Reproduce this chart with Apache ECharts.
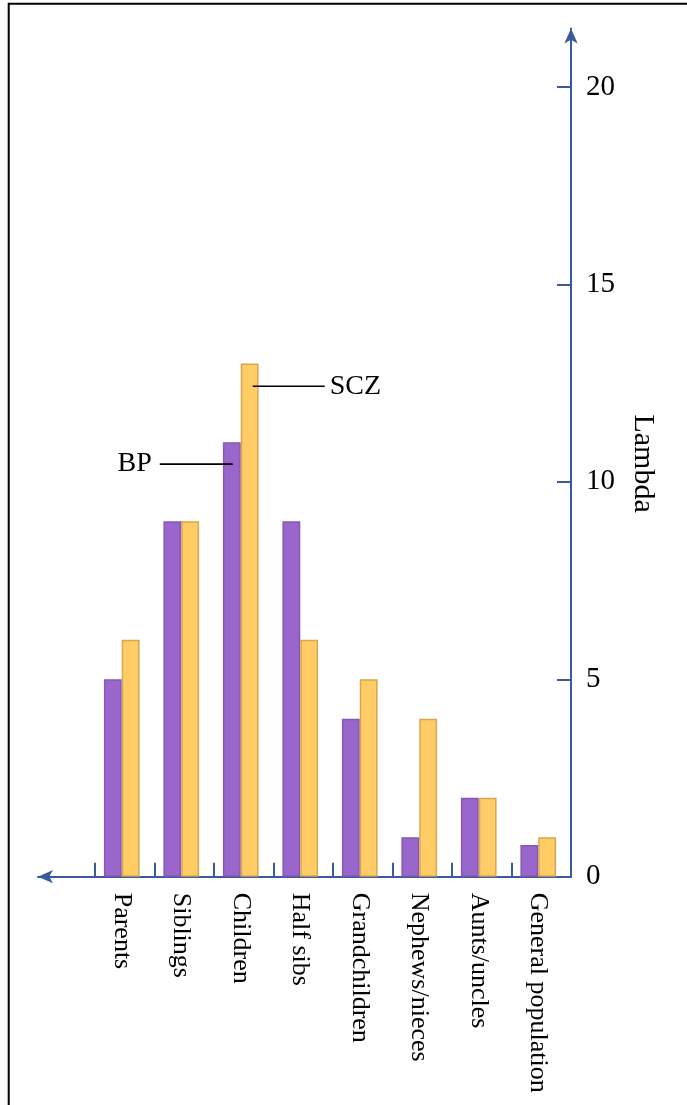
<!DOCTYPE html>
<html><head><meta charset="utf-8">
<script src="https://cdn.jsdelivr.net/npm/echarts@6/dist/echarts.min.js"></script>
<style>html,body{margin:0;padding:0;background:#fff}#c{width:687px;height:1105px}</style>
</head><body><div id="c"></div>
<script>
const categories = ['Parents', 'Siblings', 'Children', 'Half sibs', 'Grandchildren', 'Nephews/nieces', 'Aunts/uncles', 'General population'];
const bpValues = [5, 9, 11, 9, 4, 1, 2, 0.8];
const sczValues = [6, 9, 13, 6, 5, 4, 2, 1];
const valueMin = 0, valueMax = 20, valueStep = 5;
const axisName = 'Lambda';
const seriesNames = ['BP', 'SCZ'];

const FONT = "'Liberation Serif', 'Times New Roman', serif";
const BLUE = '#3A5AA0';
const chart = echarts.init(document.getElementById('c'), null, {renderer: 'canvas'});

const option = {
  animation: false,
  backgroundColor: '#fff',
  grid: [
    {left: 92, right: 119, top: 87, bottom: 228.3},
    {left: 95, right: 116, top: 87, bottom: 228.3},
    {left: 38, right: 116, top: 28.5, bottom: 228.3}
  ],
  xAxis: [
    {type: 'category', gridIndex: 0, data: categories,
     axisLine: {show: false}, axisTick: {show: false},
     axisLabel: {interval: 0, rotate: -90, margin: 16, color: '#000', fontFamily: FONT, fontSize: 26}},
    {type: 'category', gridIndex: 1, data: categories,
     axisLine: {show: false},
     axisTick: {show: true, inside: true, length: 14, alignWithLabel: false, interval: 0, lineStyle: {color: BLUE, width: 2}},
     axisLabel: {show: false}},
    {type: 'value', gridIndex: 2, min: 0, max: 1,
     axisLine: {show: true, onZero: false, symbol: ['arrow', 'none'], symbolSize: [10, 15], lineStyle: {color: BLUE, width: 2}},
     axisTick: {show: false}, axisLabel: {show: false}, splitLine: {show: false}}
  ],
  yAxis: [
    {type: 'value', gridIndex: 0, min: valueMin, max: valueMax, interval: valueStep, show: false},
    {type: 'value', gridIndex: 1, position: 'right', min: valueMin, max: valueMax, interval: valueStep,
     axisLine: {show: false},
     axisTick: {show: true, inside: true, length: 14, lineStyle: {color: BLUE, width: 2}},
     axisLabel: {margin: 15, color: '#000', fontFamily: FONT, fontSize: 29, padding: [0, 0, 8, 0]},
     splitLine: {show: false}},
    {type: 'value', gridIndex: 2, position: 'right', min: 0, max: 1,
     name: axisName, nameLocation: 'middle', nameRotate: -90, nameGap: 57,
     nameTextStyle: {color: '#000', fontFamily: FONT, fontSize: 30, padding: [0, 0, 0, 22]},
     axisLine: {show: true, onZero: false, symbol: ['none', 'arrow'], symbolSize: [10, 15], lineStyle: {color: BLUE, width: 2}},
     axisTick: {show: false}, axisLabel: {show: false}, splitLine: {show: false}}
  ],
  series: [
    {name: seriesNames[0], type: 'bar', xAxisIndex: 0, yAxisIndex: 0, data: bpValues,
     barGap: '0%', barCategoryGap: '40%',
     itemStyle: {color: '#9966CC', borderColor: '#8757B5', borderWidth: 1.5}},
    {name: seriesNames[1], type: 'bar', xAxisIndex: 0, yAxisIndex: 0, data: sczValues,
     barGap: '0%', barCategoryGap: '40%',
     itemStyle: {color: '#FFCC66', borderColor: '#D6A650', borderWidth: 1.5}}
  ]
};
chart.setOption(option);

// annotations placed relative to the Children bars via the chart's own scales
const idx = categories.indexOf('Children');
const bpPt = chart.convertToPixel({xAxisIndex: 0, yAxisIndex: 0}, [idx, 10.45]);
const sczPt = chart.convertToPixel({xAxisIndex: 0, yAxisIndex: 0}, [idx, 12.42]);
const cx = bpPt[0];
chart.setOption({
  graphic: [
    {type: 'rect', shape: {x: 8.7, y: 3.8, width: 1000, height: 1300}, style: {fill: 'none', stroke: '#000', lineWidth: 2}, silent: true, z: 100},
    {type: 'line', shape: {x1: cx - 81, y1: bpPt[1], x2: cx - 8, y2: bpPt[1]}, style: {stroke: '#000', lineWidth: 1.6}, z: 50},
    {type: 'text', x: cx - 89, y: bpPt[1], style: {text: seriesNames[0], fill: '#000', font: "28px " + FONT, textAlign: 'right', textVerticalAlign: 'middle'}, z: 50},
    {type: 'line', shape: {x1: cx + 12, y1: sczPt[1], x2: cx + 84, y2: sczPt[1]}, style: {stroke: '#000', lineWidth: 1.6}, z: 50},
    {type: 'text', x: cx + 89, y: sczPt[1], style: {text: seriesNames[1], fill: '#000', font: "28px " + FONT, textAlign: 'left', textVerticalAlign: 'middle'}, z: 50}
  ]
});
</script></body></html>
